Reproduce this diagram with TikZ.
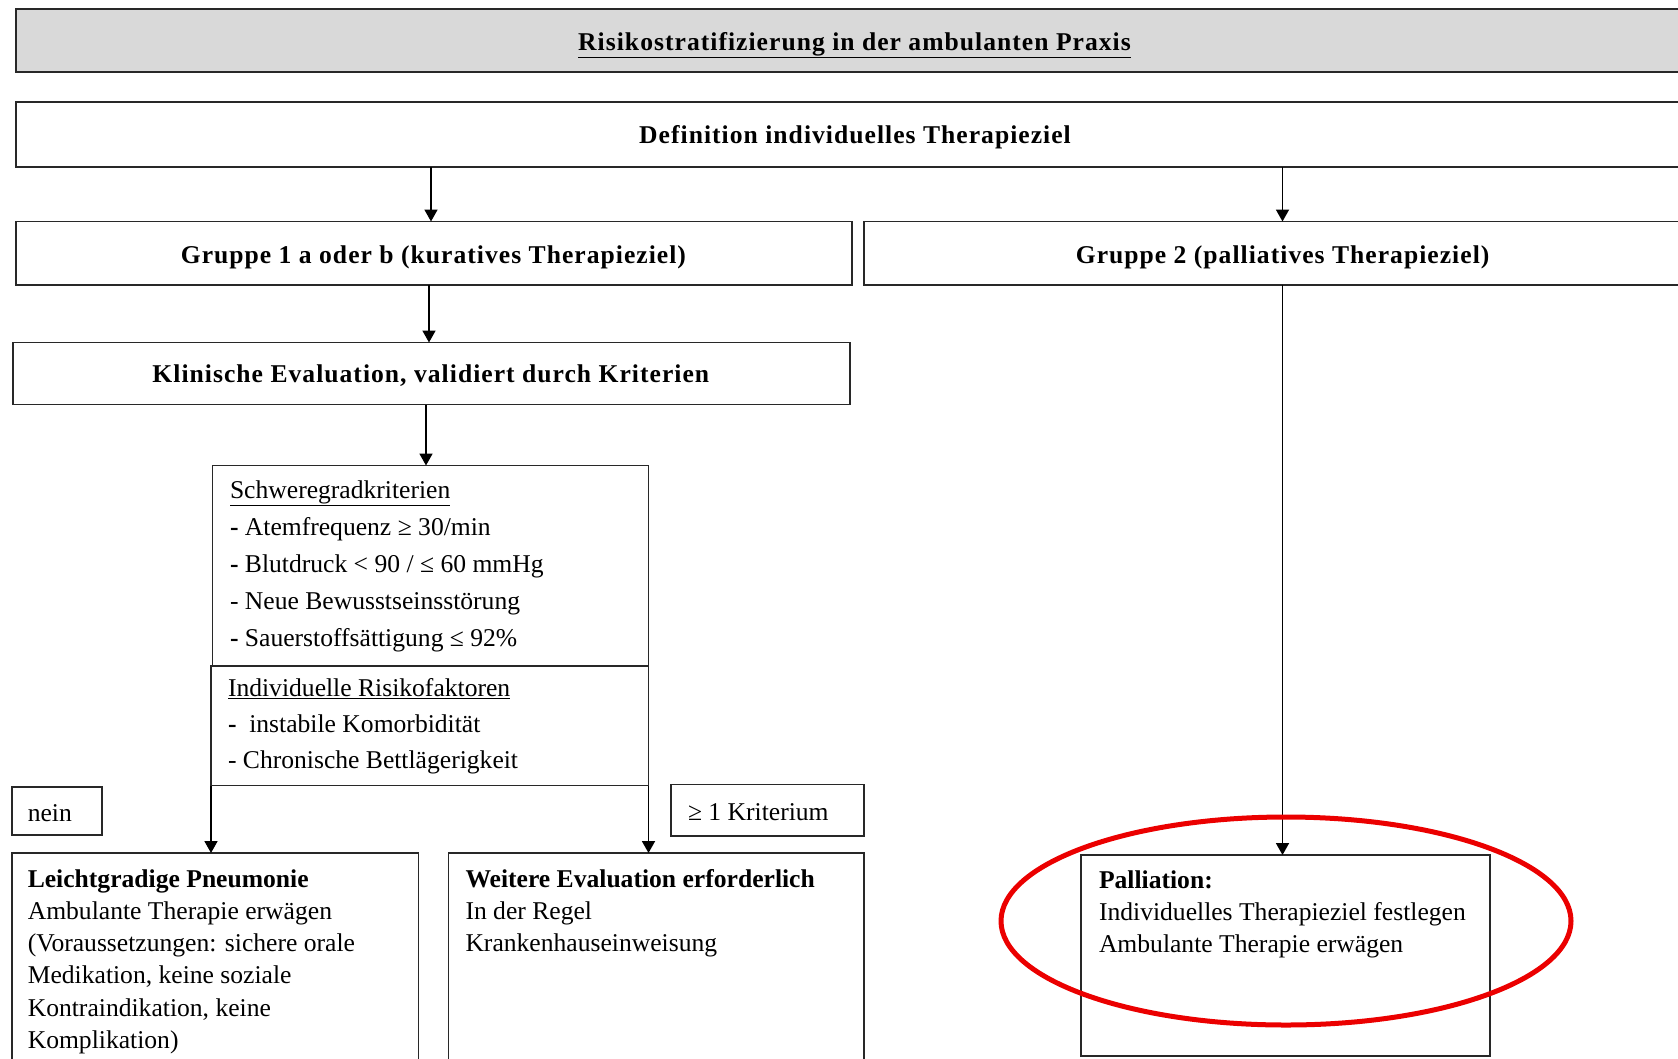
\documentclass[tikz,border=0pt]{standalone}
\usepackage{fontspec}
\setmainfont{Liberation Serif}
\newfontfamily\hdfont[LetterSpace=4]{Liberation Serif}
\usetikzlibrary{arrows.meta}
\definecolor{titlegray}{RGB}{217,217,217}
\definecolor{linegray}{RGB}{40,40,40}
\definecolor{ovalred}{RGB}{235,0,0}
\begin{document}
\begin{tikzpicture}[x=1pt,y=-1pt,
  every node/.style={inner sep=0pt, outer sep=0pt},
  box/.style={draw=linegray, line width=1.8pt, anchor=north west, rectangle},
  hd/.style={font=\fontsize{25.6}{30}\hdfont\bfseries, anchor=base},
  body/.style={font=\fontsize{25.6}{32.3}\selectfont, anchor=base west},
  arr/.style={draw=black, line width=1.8pt, -{Triangle[length=12pt,width=13pt]}}]
\useasboundingbox (0,0) rectangle (1678,1058);
% boxes
\node[box, fill=titlegray, minimum width=1700pt, minimum height=63.1pt] (title) at (16,8.6) {};
\node[box, minimum width=1700pt, minimum height=65.3pt] (defn) at (16,101.7) {};
\node[box, minimum width=836pt, minimum height=63.2pt] (g1) at (16,221.5) {};
\node[box, minimum width=850pt, minimum height=63.2pt] (g2) at (863.6,221.5) {};
\node[box, minimum width=837pt, minimum height=62pt] (klin) at (12.8,342.5) {};
\node[box, minimum width=436pt, minimum height=200.2pt] (schw) at (212.5,465.5) {};
\node[box, minimum width=437.5pt, minimum height=119.8pt] (indiv) at (211,665.7) {};
\node[box, minimum width=90pt, minimum height=48.2pt] (nein) at (11.8,786.6) {};
\node[box, minimum width=192.6pt, minimum height=51.3pt] (krit) at (671,784.5) {};
\node[box, minimum width=406.6pt, minimum height=230pt] (leicht) at (11.8,853) {};
\node[box, minimum width=415.2pt, minimum height=230pt] (weit) at (448.4,853) {};
\node[box, minimum width=408.7pt, minimum height=201.3pt] (pall) at (1081,855) {};
% texts
\node[hd] (titletxt) at (854.5,50) {\underline{Risikostratifizierung in der ambulanten Praxis}};
\node[hd] (defntxt) at (855,143) {Definition individuelles Therapieziel};
\node[hd] (g1txt) at (433.4,263) {Gruppe 1 a oder b (kuratives Therapieziel)};
\node[hd] (g2txt) at (1282.6,263) {Gruppe 2 (palliatives Therapieziel)};
\node[hd] (klintxt) at (430.8,382.5) {Klinische Evaluation, validiert durch Kriterien};
\node[body, font=\fontsize{25.6}{36.9}\selectfont] (schwtxt) at (230,498.5) {\vtop{%
  \hbox{\underline{Schweregradkriterien}}%
  \hbox{\textbf{-} Atemfrequenz ≥ 30/min}%
  \hbox{\textbf{-} Blutdruck < 90 / ≤ 60 mmHg}%
  \hbox{- Neue Bewusstseinsstörung}%
  \hbox{\textbf{-} Sauerstoffsättigung ≤ 92\%}}};
\node[body, font=\fontsize{25.6}{36}\selectfont] (indivtxt) at (228,696.5) {\vtop{%
  \hbox{\underline{Individuelle Risikofaktoren}}%
  \hbox{\textbf{-}\ \ instabile Komorbidität}%
  \hbox{- Chronische Bettlägerigkeit}}};
\node[body] (neintxt) at (27.8,821) {nein};
\node[body] (krittxt) at (688,820) {≥ 1 Kriterium};
\node[body] (leichttxt) at (27.8,887) {\vtop{%
  \hbox{\textbf{Leichtgradige Pneumonie}}%
  \hbox{Ambulante Therapie erwägen}%
  \hbox{(Voraussetzungen: sichere orale}%
  \hbox{Medikation, keine soziale}%
  \hbox{Kontraindikation, keine}%
  \hbox{Komplikation)}}};
\node[body] (weittxt) at (465.5,887) {\vtop{%
  \hbox{\textbf{Weitere Evaluation erforderlich}}%
  \hbox{In der Regel}%
  \hbox{Krankenhauseinweisung}}};
\node[body] (palltxt) at (1099,888) {\vtop{%
  \hbox{\textbf{Palliation:}}%
  \hbox{Individuelles Therapieziel festlegen}%
  \hbox{Ambulante Therapie erwägen}}};
% connectors
\coordinate (c1) at (431,0);
\coordinate (c2) at (1282.5,0);
\coordinate (c3) at (429,0);
\coordinate (c4) at (426,0);
\draw[arr] (defn.south -| c1) -- (g1.north -| c1);
\draw[arr] (defn.south -| c2) -- (g2.north -| c2);
\draw[arr] (g1.south -| c3) -- (klin.north -| c3);
\draw[arr] (klin.south -| c4) -- (schw.north -| c4);
\draw[arr] (g2.south -| c2) -- (pall.north -| c2);
\draw[arr] (indiv.south west) -- (leicht.north -| indiv.south west);
\draw[arr] (indiv.south east) -- (weit.north -| indiv.south east);
% highlight
\draw[ovalred, line width=5pt] (1286,921) ellipse [x radius=285, y radius=104];
\end{tikzpicture}
\end{document}
